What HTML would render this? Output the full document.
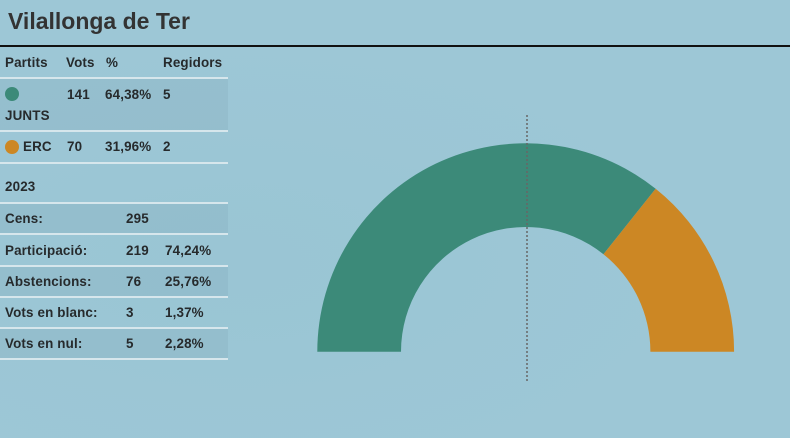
<!DOCTYPE html>
<html><head><meta charset="utf-8"><style>
html,body{margin:0;padding:0;}
body{width:790px;height:438px;overflow:hidden;position:relative;background:#9dc7d6;font-family:"Liberation Sans",Arial,sans-serif;color:#262a2c;}
.bg{position:absolute;left:0;top:0;width:790px;height:438px;background:radial-gradient(ellipse at 30% 60%, rgba(150,195,210,0.5), rgba(157,199,214,0) 60%);}
.title{position:absolute;left:8px;top:6px;font-size:23px;font-weight:bold;color:#333;line-height:30px;letter-spacing:0px;}
.hr{position:absolute;left:0;top:45px;width:790px;height:1.5px;background:#111;}
.t{position:absolute;font-size:13.4px;font-weight:bold;line-height:16px;white-space:nowrap;letter-spacing:0.15px;}
.row{position:absolute;left:0;width:228px;}
.sh{background:rgba(110,150,165,0.16);}
.ln{position:absolute;left:0;width:228px;height:1.5px;background:#d6e6ec;}
.dot{position:absolute;width:14px;height:14px;border-radius:50%;}
</style></head><body>
<div class="bg"></div>
<div class="title">Vilallonga de Ter</div>
<div class="hr"></div>

<div class="row sh" style="top:78px;height:53px;"></div>
<div class="row sh" style="top:203px;height:31px;"></div>
<div class="row sh" style="top:266px;height:31px;"></div>
<div class="row sh" style="top:328px;height:31px;"></div>

<div class="ln" style="top:77px"></div>
<div class="ln" style="top:130px"></div>
<div class="ln" style="top:162px"></div>
<div class="ln" style="top:202px"></div>
<div class="ln" style="top:233px"></div>
<div class="ln" style="top:265px"></div>
<div class="ln" style="top:296px"></div>
<div class="ln" style="top:327px"></div>
<div class="ln" style="top:358px"></div>

<div class="t" style="left:5px;top:55px">Partits</div>
<div class="t" style="left:66px;top:55px">Vots</div>
<div class="t" style="left:106px;top:55px">%</div>
<div class="t" style="left:163px;top:55px">Regidors</div>

<div class="dot" style="left:5px;top:87px;background:#3c8a79"></div>
<div class="t" style="left:67px;top:87px">141</div>
<div class="t" style="left:105px;top:87px">64,38%</div>
<div class="t" style="left:163px;top:87px">5</div>
<div class="t" style="left:5px;top:108px">JUNTS</div>

<div class="dot" style="left:5px;top:140px;background:#cc8724"></div>
<div class="t" style="left:23px;top:139px">ERC</div>
<div class="t" style="left:67px;top:139px">70</div>
<div class="t" style="left:105px;top:139px">31,96%</div>
<div class="t" style="left:163px;top:139px">2</div>

<div class="t" style="left:5px;top:179px">2023</div>
<div class="t" style="left:5px;top:211px">Cens:</div>
<div class="t" style="left:126px;top:211px">295</div>
<div class="t" style="left:5px;top:243px">Participació:</div>
<div class="t" style="left:126px;top:243px">219</div>
<div class="t" style="left:165px;top:243px">74,24%</div>
<div class="t" style="left:5px;top:274px">Abstencions:</div>
<div class="t" style="left:126px;top:274px">76</div>
<div class="t" style="left:165px;top:274px">25,76%</div>
<div class="t" style="left:5px;top:305px">Vots en blanc:</div>
<div class="t" style="left:126px;top:305px">3</div>
<div class="t" style="left:165px;top:305px">1,37%</div>
<div class="t" style="left:5px;top:336px">Vots en nul:</div>
<div class="t" style="left:126px;top:336px">5</div>
<div class="t" style="left:165px;top:336px">2,28%</div>

<svg style="position:absolute;left:0;top:0" width="790" height="438" viewBox="0 0 790 438">
<path d="M 317.3 351.7 A 208.4 208.4 0 0 1 655.64 188.77 L 603.45 254.21 A 124.7 124.7 0 0 0 401 351.7 Z" fill="#3c8a79"/>
<path d="M 655.64 188.77 A 208.4 208.4 0 0 1 734.1 351.7 L 650.4 351.7 A 124.7 124.7 0 0 0 603.45 254.21 Z" fill="#cc8724"/>
<line x1="527" y1="115" x2="527" y2="381" stroke="#666" stroke-width="1.5" stroke-dasharray="2,2"/>
</svg>
</body></html>
